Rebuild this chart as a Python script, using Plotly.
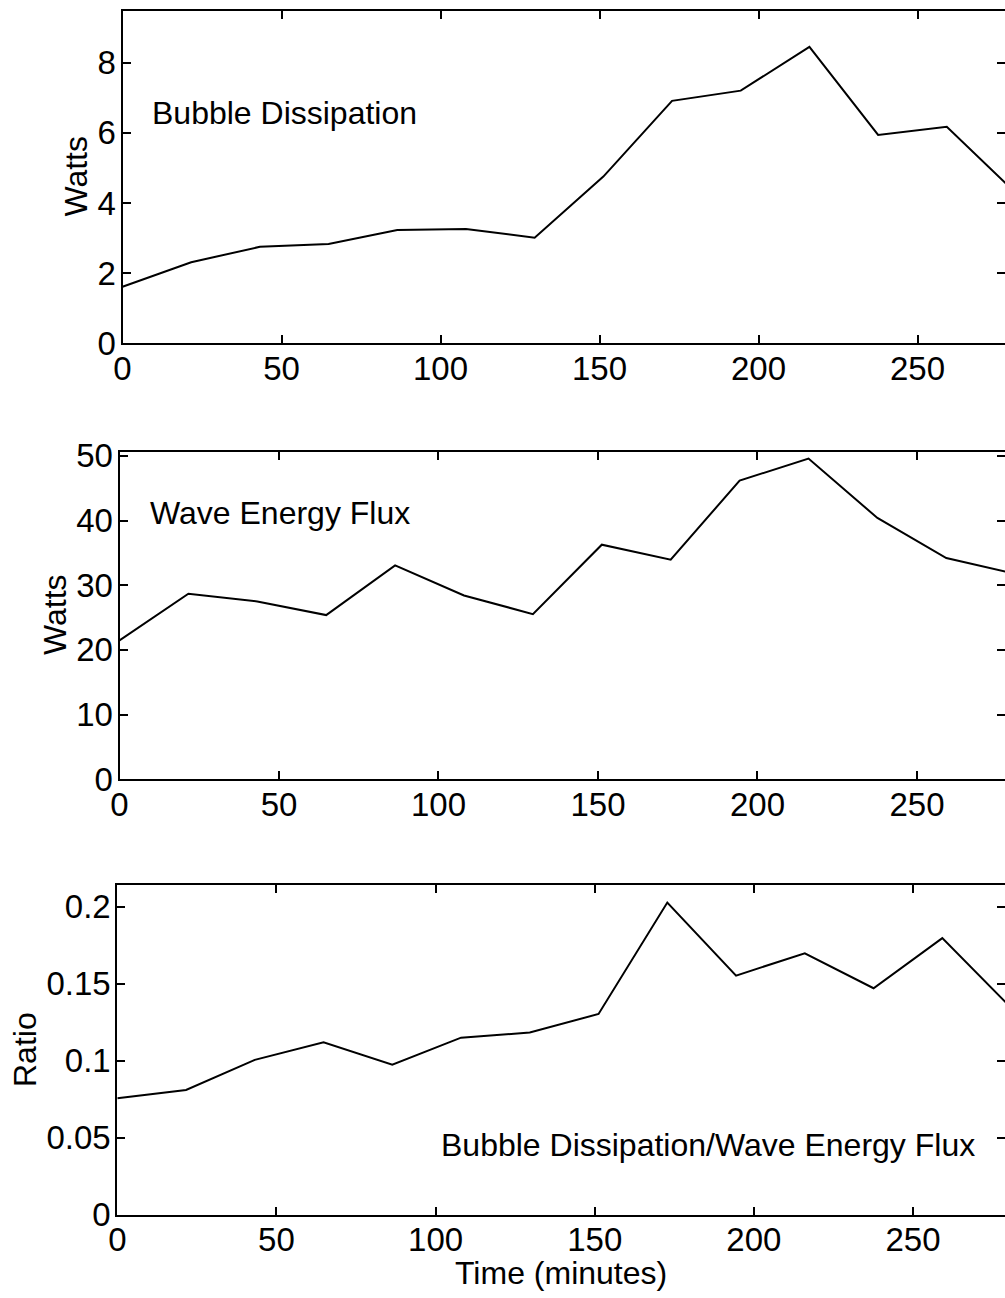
import plotly.graph_objects as go

# ---- data ----
time_min = [0, 21.6, 43.2, 64.8, 86.4, 108.0, 129.6, 151.2, 172.8, 194.4, 216.0, 237.6, 259.2, 280.8]
bubble_dissipation = [1.61, 2.31, 2.75, 2.83, 3.23, 3.26, 3.01, 4.75, 6.91, 7.20, 8.45, 5.94, 6.17, 4.29]
wave_energy_flux = [21.46, 28.68, 27.5, 25.39, 33.07, 28.42, 25.54, 36.27, 33.95, 46.18, 49.58, 40.40, 34.21, 31.78]
ratio = [0.0756, 0.0810, 0.1005, 0.1119, 0.0974, 0.1149, 0.1182, 0.1303, 0.2026, 0.1552, 0.1697, 0.1470, 0.1795, 0.1343]

x_ticks = [0, 50, 100, 150, 200, 250]
y1_ticks = [0, 2, 4, 6, 8]
y2_ticks = [0, 10, 20, 30, 40, 50]
y3_ticks = [0, 0.05, 0.1, 0.15, 0.2]
y3_ticktext = ["0", "0.05", "0.1", "0.15", "0.2"]

W, H = 1005, 1298
FONT = "Liberation Sans, Arial, Helvetica, sans-serif"

fig = go.Figure()
line = dict(color="black", width=2)
fig.add_trace(go.Scatter(x=time_min, y=bubble_dissipation, mode="lines", line=line, xaxis="x", yaxis="y", showlegend=False))
fig.add_trace(go.Scatter(x=time_min, y=wave_energy_flux, mode="lines", line=line, xaxis="x2", yaxis="y2", showlegend=False))
fig.add_trace(go.Scatter(x=time_min, y=ratio, mode="lines", line=line, xaxis="x3", yaxis="y3", showlegend=False))

common = dict(showline=True, linecolor="black", linewidth=2, mirror="ticks",
              ticks="inside", ticklen=8, tickwidth=2, tickcolor="black",
              showgrid=False, zeroline=False, automargin=False,
              tickfont=dict(size=33, color="black", family=FONT))

def px_x(p):
    return p / W

def px_y(p):
    return 1 - p / H

xcommon = dict(common, tickvals=x_ticks, ticktext=[str(v) for v in x_ticks], ticklabelstandoff=-5)
ycommon = dict(common, ticklabelstandoff=-2)

fig.update_layout(
    width=W, height=H,
    margin=dict(l=0, r=0, t=0, b=0),
    paper_bgcolor="white", plot_bgcolor="white",
    font=dict(family=FONT, color="black"),
    xaxis=dict(xcommon, domain=[px_x(122.5), 1], range=[0, 277.5], anchor="y"),
    yaxis=dict(ycommon, domain=[px_y(343.3), px_y(11)], range=[0, 9.47], anchor="x",
               tickvals=y1_ticks, ticktext=[str(v) for v in y1_ticks]),
    xaxis2=dict(xcommon, domain=[px_x(119.5), 1], range=[0, 277.6], anchor="y2"),
    yaxis2=dict(ycommon, domain=[px_y(779.3), px_y(452)], range=[0, 50.6], anchor="x2",
                tickvals=y2_ticks, ticktext=[str(v) for v in y2_ticks]),
    xaxis3=dict(xcommon, domain=[px_x(117.3), 1], range=[0, 278.9], anchor="y3"),
    yaxis3=dict(ycommon, domain=[px_y(1214.7), px_y(885)], range=[0, 0.214], anchor="x3",
                tickvals=y3_ticks, ticktext=y3_ticktext),
)

ann_font = dict(size=32, color="black", family=FONT)
annotations = [
    dict(text="Bubble Dissipation", x=8.6, y=6.56, xref="x", yref="y", xanchor="left", yanchor="middle", showarrow=False, font=ann_font),
    dict(text="Wave Energy Flux", x=8.9, y=41.2, xref="x2", yref="y2", xanchor="left", yanchor="middle", showarrow=False, font=ann_font),
    dict(text="Bubble Dissipation/Wave Energy Flux", x=101.2, y=0.0455, xref="x3", yref="y3", xanchor="left", yanchor="middle", showarrow=False, font=ann_font),
    dict(text="Watts", x=px_x(75.8), y=px_y(175.8), xref="paper", yref="paper", textangle=-90, xanchor="center", yanchor="middle", showarrow=False, font=ann_font),
    dict(text="Watts", x=px_x(55), y=px_y(615), xref="paper", yref="paper", textangle=-90, xanchor="center", yanchor="middle", showarrow=False, font=ann_font),
    dict(text="Ratio", x=px_x(25), y=px_y(1050), xref="paper", yref="paper", textangle=-90, xanchor="center", yanchor="middle", showarrow=False, font=ann_font),
    dict(text="Time (minutes)", x=px_x(561), y=px_y(1273), xref="paper", yref="paper", xanchor="center", yanchor="middle", showarrow=False, font=ann_font),
]
fig.update_layout(annotations=annotations)

fig.write_html("out.html")
